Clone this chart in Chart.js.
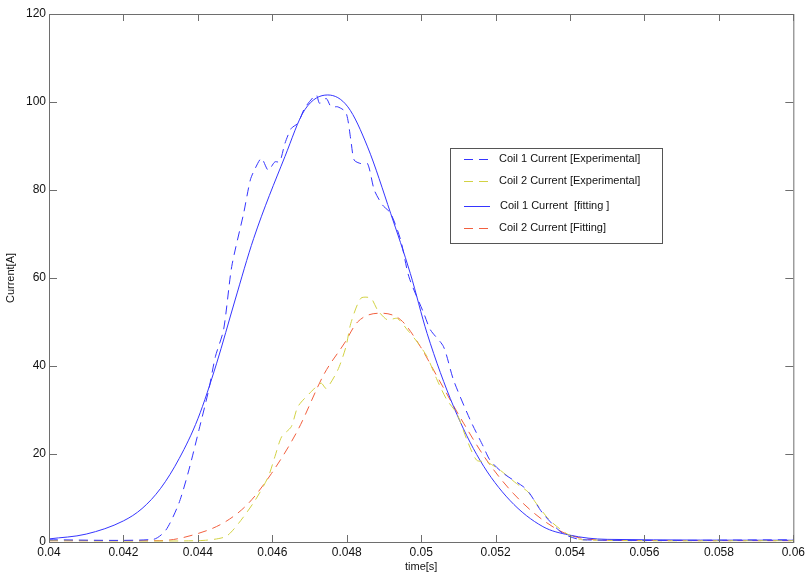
<!DOCTYPE html>
<html>
<head>
<meta charset="utf-8">
<script src="https://cdn.jsdelivr.net/npm/chart.js@4.4.1/dist/chart.umd.min.js"></script>
<style>
  html, body { margin: 0; padding: 0; background: #fff; }
  #wrap { width: 808px; height: 574px; }
</style>
</head>
<body>
<div id="wrap"><canvas id="coils"></canvas></div>
<script>
// values
const xTicks = [0.04, 0.042, 0.044, 0.046, 0.048, 0.05, 0.052, 0.054, 0.056, 0.058, 0.06];
const yTicks = [0, 20, 40, 60, 80, 100, 120];

const coil1ExpT = [0.04, 0.0428, 0.04314, 0.04349, 0.04376, 0.04403, 0.04429, 0.04447, 0.04469, 0.04491, 0.04523, 0.04541, 0.04554, 0.04571, 0.04589, 0.04607, 0.0462, 0.04634, 0.04651, 0.04669, 0.04687, 0.04718, 0.04727, 0.04745, 0.04758, 0.04776, 0.04798, 0.04811, 0.0482, 0.04838, 0.04856, 0.04874, 0.04896, 0.04918, 0.04945, 0.04967, 0.05007, 0.05025, 0.0506, 0.05087, 0.05132, 0.05167, 0.05185, 0.05221, 0.05274, 0.05291, 0.05327, 0.0538, 0.05434, 0.06];
const coil1ExpI = [0.5, 0.6, 2.7, 8.8, 16.4, 25.5, 34.5, 42.1, 48.2, 62.6, 74.7, 82.3, 84.9, 87.2, 84.5, 86.4, 86.4, 90.6, 94, 95.2, 98.6, 101.6, 99.7, 100.8, 98.9, 98.9, 97.6, 91.4, 86.8, 86, 86, 80, 76.6, 74.7, 68.6, 60.3, 52, 48.2, 44.4, 36.8, 27.7, 21.7, 18.6, 15.6, 12.6, 11.1, 6.5, 2, 0.5, 0.5];

const coil2ExpT = [0.04, 0.044, 0.04474, 0.04509, 0.04554, 0.04589, 0.04607, 0.04625, 0.04651, 0.04669, 0.04705, 0.04731, 0.04745, 0.04776, 0.04798, 0.04811, 0.04838, 0.04865, 0.04883, 0.04909, 0.04936, 0.04963, 0.04989, 0.05016, 0.05043, 0.05069, 0.05096, 0.05123, 0.05149, 0.05176, 0.05211, 0.05256, 0.05287, 0.05309, 0.05345, 0.05389, 0.05434, 0.06];
const coil2ExpI = [0.3, 0.3, 1.2, 4.2, 9.5, 14.8, 19.4, 23.9, 26.2, 30.8, 34.2, 36.1, 34.9, 39.1, 44.4, 49.7, 55.4, 55.4, 52.7, 50.5, 50.8, 48.2, 45.5, 42.1, 36.8, 32.3, 29.2, 23.2, 18.6, 18.2, 16.4, 13.3, 11.4, 8.8, 5, 2, 0.5, 0.3];

const coil1FitT = [0.04, 0.041, 0.042, 0.0425, 0.043, 0.0435, 0.044, 0.0445, 0.045, 0.0455, 0.04634, 0.04687, 0.04749, 0.04803, 0.04856, 0.04918, 0.04971, 0.05016, 0.05087, 0.05158, 0.05238, 0.05327, 0.05397, 0.055, 0.06];
const coil1FitI = [0.7, 1.8, 4.8, 7.6, 12.2, 19, 28, 40.5, 55, 69, 87.6, 98.2, 101.6, 98.9, 89.8, 74.7, 61, 47.4, 30.8, 18.6, 9.5, 3.5, 1.6, 0.6, 0.4];

const coil2FitT = [0.04, 0.04296, 0.04403, 0.04474, 0.04536, 0.04598, 0.04669, 0.0474, 0.04794, 0.04829, 0.04891, 0.04945, 0.04998, 0.05043, 0.05114, 0.05176, 0.05247, 0.05327, 0.05398, 0.055, 0.06];
const coil2FitI = [0.3, 0.3, 2, 4.6, 8.8, 15.6, 25.5, 38.3, 45.2, 50, 52, 50.5, 44.4, 37.6, 27, 18.6, 11.1, 5, 1.6, 0.4, 0.3];

const seriesNames = ["Coil 1 Current [Experimental]", "Coil 2 Current [Experimental]", "Coil 1 Current  [fitting ]", "Coil 2 Current [Fitting]"];

const toPts = (ts, vs) => ts.map((t, i) => ({ x: t, y: vs[i] }));

const blue = "#3535ff";
const yellow = "#d2d244";
const red = "#f2603f";

// box round the plot + inward ticks + legend inside the axes
const frame = {
  id: "frame",
  afterDraw(chart) {
    const { ctx, chartArea: a, scales } = chart;
    ctx.save();
    ctx.strokeStyle = "#6e6e6e";
    ctx.lineWidth = 1;
    ctx.strokeRect(a.left + 0.5, a.top + 0.5, a.right - a.left, a.bottom - a.top);
    ctx.beginPath();
    xTicks.forEach(v => {
      const x = Math.round(scales.x.getPixelForValue(v)) + 0.5;
      ctx.moveTo(x, a.bottom); ctx.lineTo(x, a.bottom - 7);
      ctx.moveTo(x, a.top); ctx.lineTo(x, a.top + 7);
    });
    yTicks.forEach(v => {
      const y = Math.round(scales.y.getPixelForValue(v)) + 0.5;
      ctx.moveTo(a.left, y); ctx.lineTo(a.left + 8, y);
      ctx.moveTo(a.right, y); ctx.lineTo(a.right - 8, y);
    });
    ctx.stroke();

    // legend
    const lx = 450, ly = 148, lw = 212, lh = 95;
    ctx.fillStyle = "#fff";
    ctx.fillRect(lx, ly, lw, lh);
    ctx.strokeStyle = "#555";
    ctx.strokeRect(lx + 0.5, ly + 0.5, lw, lh);
    const rows = [159, 181, 206, 228];
    const cols = [blue, yellow, blue, red];
    const dashes = [[9, 6], [9, 6], [], [9, 6]];
    ctx.font = "11px 'Liberation Sans', Arial, sans-serif";
    ctx.textBaseline = "middle";
    rows.forEach((y, i) => {
      ctx.strokeStyle = cols[i];
      ctx.setLineDash(dashes[i]);
      ctx.beginPath();
      ctx.moveTo(464, y + 0.5); ctx.lineTo(490, y + 0.5);
      ctx.stroke();
      ctx.setLineDash([]);
      ctx.fillStyle = "#111";
      ctx.fillText(seriesNames[i], i === 2 ? 500 : 499, y);
    });
    ctx.restore();
  }
};

Chart.defaults.font.family = "'Liberation Sans', Arial, sans-serif";
Chart.defaults.font.size = 11;
Chart.defaults.color = "#111";

const ctx = document.getElementById("coils").getContext("2d");
const coilChart = new Chart(ctx, {
  type: "line",
  data: {
    datasets: [
      { label: seriesNames[0], data: toPts(coil1ExpT, coil1ExpI), borderColor: blue, borderDash: [9, 6], tension: 0.25 },
      { label: seriesNames[1], data: toPts(coil2ExpT, coil2ExpI), borderColor: yellow, borderDash: [9, 6], tension: 0.25 },
      { label: seriesNames[2], data: toPts(coil1FitT, coil1FitI), borderColor: blue, cubicInterpolationMode: "monotone" },
      { label: seriesNames[3], data: toPts(coil2FitT, coil2FitI), borderColor: red, borderDash: [9, 6], cubicInterpolationMode: "monotone" },
    ],
  },
  options: {
    responsive: true,
    maintainAspectRatio: false,
    animation: false,
    layout: { padding: { top: 14, right: 9, left: 0, bottom: 0 }, autoPadding: false },
    elements: {
      point: { radius: 0 },
      line: { borderWidth: 1, fill: false },
    },
    plugins: {
      legend: { display: false },
      tooltip: { enabled: false },
    },
    scales: {
      x: {
        type: "linear",
        min: 0.04,
        max: 0.06,
        afterBuildTicks: s => { s.ticks = xTicks.map(v => ({ value: v })); },
        afterFit: s => { s.height = 32; },
        grid: { display: false, drawTicks: false },
        border: { display: false },
        ticks: { padding: 3, maxRotation: 0, autoSkip: false, callback: v => String(+v.toFixed(3)), font: { size: 12 } },
        title: { display: true, text: "time[s]", padding: { top: 0, bottom: 0 }, font: { size: 11 } },
      },
      y: {
        min: 0,
        max: 120,
        afterBuildTicks: s => { s.ticks = yTicks.map(v => ({ value: v })); },
        afterFit: s => { s.width = 49; },
        grid: { display: false, drawTicks: false },
        border: { display: false },
        ticks: { padding: 3, font: { size: 12 } },
        title: { display: true, text: "Current[A]", padding: { top: 4, bottom: 0 }, font: { size: 11 } },
      },
    },
  },
  plugins: [frame],
});
</script>
</body>
</html>
